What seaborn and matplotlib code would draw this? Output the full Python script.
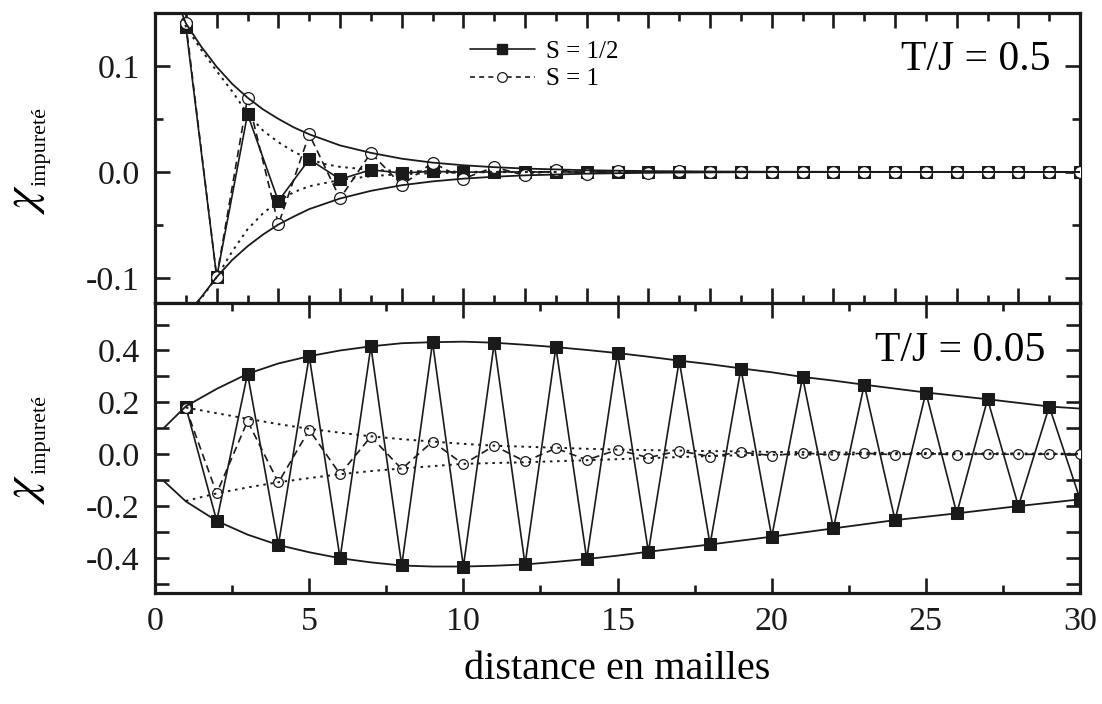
import matplotlib
matplotlib.use("Agg")
import matplotlib.pyplot as plt
from matplotlib.ticker import MultipleLocator
from matplotlib.lines import Line2D
import seaborn as sns

# distance (lattice sites)
dist = [1, 2, 3, 4, 5, 6, 7, 8, 9, 10, 11, 12, 13, 14, 15,
        16, 17, 18, 19, 20, 21, 22, 23, 24, 25, 26, 27, 28, 29, 30]

# T/J = 0.5
top_s12 = [0.1365, -0.099, 0.0545, -0.0275, 0.012, -0.0069, 0.002, -0.001, 0.0005, -0.0002,
           0.0, 0.0, 0.0, 0.0, 0.0, 0.0, 0.0, 0.0, 0.0, 0.0,
           0.0, 0.0, 0.0, 0.0, 0.0, 0.0, 0.0, 0.0, 0.0, 0.0]
top_s1 = [0.140, -0.099, 0.070, -0.0495, 0.0355, -0.025, 0.018, -0.0125, 0.0088, -0.0063,
          0.0045, -0.0032, 0.0022, -0.0016, 0.0011, -0.0008, 0.0005, -0.0004, 0.0003, -0.0002,
          0.0001, -0.0001, 0.0, 0.0, 0.0, 0.0, 0.0, 0.0, 0.0, 0.0]

# T/J = 0.05
bot_s12 = [0.182, -0.257, 0.31, -0.35, 0.378, -0.401, 0.416, -0.429, 0.432, -0.433,
           0.428, -0.425, 0.413, -0.404, 0.39, -0.376, 0.361, -0.348, 0.33, -0.318,
           0.297, -0.286, 0.268, -0.254, 0.238, -0.228, 0.212, -0.2, 0.184, -0.174]
bot_s1 = [0.178, -0.151, 0.128, -0.109, 0.094, -0.077, 0.068, -0.057, 0.049, -0.039,
          0.033, -0.028, 0.023, -0.022, 0.017, -0.013, 0.013, -0.009, 0.008, -0.005,
          0.005, -0.003, 0.004, -0.002, 0.003, -0.002, 0.002, -0.001, 0.001, 0.0]

# envelopes, T/J = 0.5 (solid: S=1, dotted: S=1/2)
top_env_up_x = [0.85, 1, 1.25, 1.5, 2, 2.5, 3, 3.5, 4, 4.5, 5, 6, 7, 8, 9, 10, 11, 12, 14, 16, 18, 20, 25, 30]
top_env_up_y = [0.151, 0.140, 0.129, 0.118, 0.099, 0.083, 0.070, 0.059, 0.050, 0.042, 0.0355, 0.025,
                0.018, 0.0125, 0.0088, 0.0063, 0.0045, 0.0032, 0.0016, 0.0008, 0.0004, 0.0002, 0.0, 0.0]
top_env_lo_x = [1.35, 1.5, 2, 2.5, 3, 3.5, 4, 4.5, 5, 6, 7, 8, 9, 10, 11, 12, 14, 16, 18, 20, 25, 30]
top_env_lo_y = [-0.123, -0.118, -0.099, -0.083, -0.070, -0.059, -0.0495, -0.042, -0.035, -0.025, -0.0178,
                -0.0125, -0.0089, -0.0063, -0.0045, -0.0032, -0.0016, -0.0008, -0.0004, -0.0002, 0.0, 0.0]
top_dot_up_x = [0.8, 1, 1.5, 2, 2.5, 3, 3.5, 4, 4.5, 5, 5.5, 6, 7, 8, 10, 12, 30]
top_dot_up_y = [0.151, 0.137, 0.115, 0.095, 0.076, 0.055, 0.039, 0.028, 0.019, 0.012, 0.0075, 0.0048,
                0.002, 0.001, 0.0002, 0.0, 0.0]
top_dot_lo_x = [1.4, 2, 2.5, 3, 3.5, 4, 4.5, 5, 6, 7, 8, 10, 12, 30]
top_dot_lo_y = [-0.123, -0.099, -0.075, -0.054, -0.039, -0.0275, -0.019, -0.0135, -0.0075, -0.004,
                -0.002, -0.0005, 0.0, 0.0]

# envelopes, T/J = 0.05 (solid: S=1/2, dotted: S=1)
bot_env_x = [0.3, 1, 2, 3, 4, 5, 6, 7, 8, 9, 10, 11, 12, 13, 14, 15,
             16, 17, 18, 19, 20, 21, 22, 23, 24, 25, 26, 27, 28, 29, 30]
bot_env_up_y = [0.103, 0.185, 0.252, 0.31, 0.35, 0.378, 0.40, 0.416, 0.428, 0.432, 0.434, 0.43, 0.422,
                0.413, 0.402, 0.39, 0.376, 0.361, 0.347, 0.331, 0.316, 0.298, 0.284, 0.268, 0.253,
                0.238, 0.225, 0.212, 0.198, 0.184, 0.176]
bot_env_lo_y = [-0.105, -0.182, -0.257, -0.31, -0.35, -0.378, -0.401, -0.417, -0.429, -0.433, -0.433,
                -0.43, -0.425, -0.415, -0.404, -0.391, -0.376, -0.362, -0.348, -0.333, -0.318, -0.302,
                -0.286, -0.27, -0.254, -0.241, -0.228, -0.214, -0.2, -0.187, -0.174]
bot_dot_x = [1, 2, 3, 4, 5, 6, 7, 8, 9, 10, 11, 12, 13, 14, 15, 16, 17, 18, 19, 20, 22, 24, 26, 28, 30]
bot_dot_up_y = [0.18, 0.158, 0.137, 0.116, 0.098, 0.083, 0.069, 0.058, 0.049, 0.04, 0.033, 0.029,
                0.025, 0.021, 0.018, 0.016, 0.014, 0.012, 0.011, 0.009, 0.007, 0.005, 0.004, 0.003, 0.002]
bot_dot_lo_y = [-0.18, -0.151, -0.128, -0.108, -0.092, -0.077, -0.065, -0.055, -0.046, -0.037,
                -0.034, -0.031, -0.027, -0.023, -0.019, -0.015, -0.011, -0.007, -0.004, -0.002,
                -0.001, 0.0, 0.0, 0.0, 0.0]

sns.set_theme(style="ticks")
plt.rcParams["font.family"] = ["Liberation Serif", "DejaVu Serif"]
plt.rcParams["axes.unicode_minus"] = False
plt.rcParams["mathtext.fontset"] = "stix"
plt.rcParams["text.color"] = "black"
plt.rcParams["axes.labelcolor"] = "black"

DASH = (0, (4.5, 2.8))
DOT = (0, (1.3, 2.4))


def draw_panel(ax, s12, s1, solid_env, dotted_env, sq_ms, ci_ms):
    sns.lineplot(x=dist, y=s12, ax=ax, color="k", lw=1.2, marker="s", markersize=sq_ms,
                 markerfacecolor="k", markeredgecolor="k", zorder=3)
    sns.lineplot(x=dist, y=s1, ax=ax, color="k", lw=1.2, linestyle=DASH, marker="o",
                 markersize=ci_ms, markerfacecolor="white", markeredgecolor="k",
                 markeredgewidth=0.9, zorder=4)
    for ex, ey in solid_env:
        sns.lineplot(x=ex, y=ey, ax=ax, color="k", lw=1.3, zorder=5)
    for ex, ey in dotted_env:
        sns.lineplot(x=ex, y=ey, ax=ax, color="k", lw=1.4, linestyle=DOT, zorder=5)
    ax.set_xlim(0, 30)
    for sp in ax.spines.values():
        sp.set_linewidth(2.3)
        sp.set_color("k")
    ax.tick_params(which="both", direction="in", top=True, right=True, width=1.9,
                   colors="k", labelsize=24.5)
    ax.tick_params(which="major", length=11, pad=11)
    ax.tick_params(which="minor", length=6)
    ax.set_xlabel("")
    ax.set_ylabel("")
    ax.grid(False)


fig = plt.figure(figsize=(11.02, 7.04), dpi=100)
ax1 = fig.add_axes([0.1407, 0.5703, 0.8394, 0.4116])
ax2 = fig.add_axes([0.1407, 0.1577, 0.8394, 0.4126])

draw_panel(ax1, top_s12, top_s1,
           [(top_env_up_x, top_env_up_y), (top_env_lo_x, top_env_lo_y)],
           [(top_dot_up_x, top_dot_up_y), (top_dot_lo_x, top_dot_lo_y)],
           sq_ms=8, ci_ms=8.5)
draw_panel(ax2, bot_s12, bot_s1,
           [(bot_env_x, bot_env_up_y), (bot_env_x, bot_env_lo_y)],
           [(bot_dot_x, bot_dot_up_y), (bot_dot_x, bot_dot_lo_y)],
           sq_ms=8.5, ci_ms=7)

ax1.set_ylim(-0.123, 0.15)
ax1.yaxis.set_major_locator(MultipleLocator(0.1))
ax1.yaxis.set_minor_locator(MultipleLocator(0.05))
ax1.xaxis.set_major_locator(MultipleLocator(2))
ax1.xaxis.set_minor_locator(MultipleLocator(1))
ax1.tick_params(axis="x", labelbottom=False)
ax1.set_yticks([-0.1, 0.0, 0.1])
ax1.set_yticklabels(["-0.1", "0.0", "0.1"])

ax2.set_ylim(-0.535, 0.585)
ax2.yaxis.set_major_locator(MultipleLocator(0.2))
ax2.yaxis.set_minor_locator(MultipleLocator(0.1))
ax2.tick_params(axis="y", which="both", length=10)
ax2.set_yticks([-0.4, -0.2, 0.0, 0.2, 0.4])
ax2.set_yticklabels(["-0.4", "-0.2", "0.0", "0.2", "0.4"])
ax2.xaxis.set_major_locator(MultipleLocator(5))
ax2.xaxis.set_minor_locator(MultipleLocator(2.5))
ax2.set_xticks([0, 5, 10, 15, 20, 25, 30])
ax2.set_xticklabels(["0", "5", "10", "15", "20", "25", "30"])
ax2.tick_params(axis="x", which="major", pad=10)

ax1.text(0.9676, 0.802, "T/J = 0.5", transform=ax1.transAxes, ha="right", va="baseline", fontsize=30)
ax2.text(0.962, 0.799, "T/J = 0.05", transform=ax2.transAxes, ha="right", va="baseline", fontsize=30)

handles = [
    Line2D([], [], color="k", lw=1.2, marker="s", markersize=7, markerfacecolor="k"),
    Line2D([], [], color="k", lw=1.2, linestyle=(0, (3.0, 2.5)), marker="o", markersize=7,
           markerfacecolor="white", markeredgewidth=0.9),
]
ax1.legend(handles, ["S = 1/2", "S = 1"], loc="upper left", bbox_to_anchor=(0.34, 0.905),
           frameon=False, fontsize=18, handlelength=2.6, handletextpad=0.45,
           labelspacing=0.2, borderpad=0, borderaxespad=0, numpoints=1)

fig.text(0.5601, 0.036, "distance en mailles", ha="center", va="baseline", fontsize=29)

# y labels: large chi with subscript
for yc_chi, yc_sub in [(200, 147), (490, 435)]:
    fig.text(26 / 1102, 1 - yc_chi / 704, r"$\chi$", rotation=90, ha="center", va="center", fontsize=34)
    fig.text(41 / 1102, 1 - yc_sub / 704, "impureté", rotation=90, ha="center", va="center", fontsize=16)

fig.savefig("out.png", dpi=100)
